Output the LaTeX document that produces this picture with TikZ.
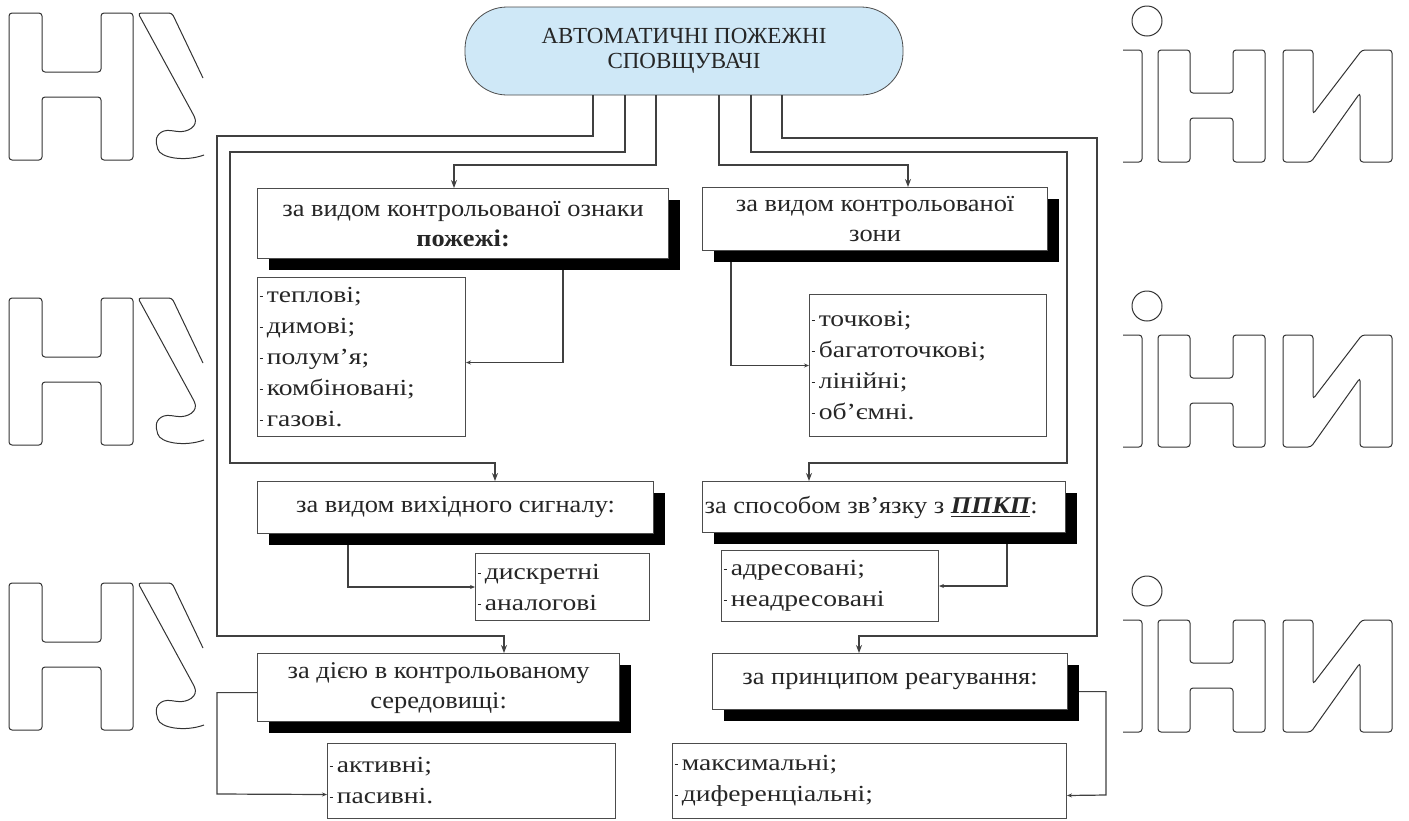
\documentclass[tikz,border=0pt]{standalone}
\usepackage{fontspec}
\setmainfont{Liberation Serif}
\newfontfamily\catfont[FakeStretch=1.1]{Liberation Serif}
\newfontfamily\itmfont[FakeStretch=1.2]{Liberation Serif}
\usetikzlibrary{arrows.meta,calc,shadows}

\definecolor{headfill}{HTML}{CFE8F7}
\newcommand\mk{\rule[0.55ex]{0.15em}{0.35pt}\,}

\begin{document}
\begin{tikzpicture}[
    x=0.5pt, y=-0.5pt,
    headbox/.style={draw=black!70, fill=headfill, rounded corners=21pt, minimum width=219pt, minimum height=44pt, align=center, text=black!85, font=\fontsize{11.5}{12.5}\selectfont},
    cat/.style={draw=black!70, fill=white, line width=0.6pt, anchor=north west, align=center, inner sep=1pt, text=black!85, font=\catfont\fontsize{12}{15}\selectfont, drop shadow={shadow xshift=5.5pt, shadow yshift=-5.5pt, fill=black, opacity=1}},
    itm/.style={draw=black!70, fill=white, line width=0.5pt, anchor=north west, align=left, inner sep=1pt, text=black!85, font=\itmfont\fontsize{11.5}{15.5}\selectfont},
    ln/.style={draw=black!75, line width=0.6pt},
    arr/.style={ln, -{Stealth[length=4pt,width=3pt]}},
    sarr/.style={ln, -{Stealth[length=2.5pt,width=2pt]}},
    wm/.style={draw=black!80, line width=0.5pt, rounded corners=1.5pt},
  ]
    \useasboundingbox[fill=white] (0,0) rectangle (1409,820);

    % Watermark
    \foreach \t in {0,285,570} {
      \draw[wm, shift={(0,\t)}] (9,13) -- (42,13) -- (42,72) -- (101,72) -- (101,13) -- (133,13) -- (133,160) -- (101,160) -- (101,97) -- (42,97) -- (42,160) -- (9,160) -- cycle;
      \draw[wm, shift={(0,\t)}] (203,78) -- (172,13) -- (138,13) -- (193,114) .. controls (199,126) and (188,133) .. (174,131) .. controls (160,129) and (155,137) .. (157,146) .. controls (160,158) and (185,162) .. (204,155);
      \draw[wm, shift={(0,\t)}] (1123,50) -- (1142,50) -- (1142,162) -- (1123,162);
      \draw[wm, shift={(0,\t)}] (1147,21) circle[radius=7.5pt];
      \draw[wm, shift={(0,\t)}] (1158,50) -- (1190,50) -- (1190,93) -- (1233,93) -- (1233,50) -- (1265,50) -- (1265,162) -- (1233,162) -- (1233,118) -- (1190,118) -- (1190,162) -- (1158,162) -- cycle;
      \draw[wm, shift={(0,\t)}] (1283,50) -- (1313,50) -- (1313,114) -- (1362,50) -- (1392,50) -- (1392,162) -- (1360,162) -- (1360,93) -- (1311,162) -- (1283,162) -- cycle;
    }

    % Head
    \node[headbox] (head) at (684,51) {АВТОМАТИЧНІ ПОЖЕЖНІ\\СПОВЩУВАЧІ};

    % Categories
    \node[cat, minimum width=205.5pt, minimum height=35pt] (catA) at (257,188) {за видом контрольованої ознаки\\\textbf{пожежі:}};
    \node[cat, minimum width=172.5pt, minimum height=31.5pt] (catB) at (702,187) {за видом контрольованої\\зони};
    \node[cat, minimum width=198pt, minimum height=26pt] (catC) at (257,481) {за видом вихідного сигналу:};
    \node[cat, align=flush left, text width=179.5pt, minimum height=25.5pt] (catD) at (702,481) {за способом зв’язку з \textbf{\textit{\underline{ППКП}}}:};
    \node[cat, minimum width=181pt, minimum height=34pt] (catE) at (257,653) {за дією в контрольованому\\середовищі:};
    \node[cat, minimum width=177.5pt, minimum height=28pt] (catF) at (712,653) {за принципом реагування:};

    % Items
    \node[itm, text width=102pt, minimum height=79.5pt] (itA) at (257,277) {\mk теплові;\\\mk димові;\\\mk полум’я;\\\mk комбіновані;\\\mk газові.};
    \node[itm, text width=116.5pt, minimum height=71pt] (itB) at (809,294) {\mk точкові;\\\mk багатоточкові;\\\mk лінійні;\\\mk об’ємні.};
    \node[itm, text width=85pt, minimum height=33.5pt] (itC) at (475,553) {\mk дискретні\\\mk аналогові};
    \node[itm, text width=106.5pt, minimum height=35.5pt] (itD) at (721,550) {\mk адресовані;\\\mk неадресовані};
    \node[itm, text width=142pt, minimum height=37.5pt] (itE) at (327,743) {\mk активні;\\\mk пасивні.};
    \node[itm, text width=195pt, minimum height=37.5pt] (itF) at (672,743) {\mk максимальні;\\\mk диференціальні;};

    % Head to categories
    \draw[arr] ([xshift=-45.5pt]head.south) |- (217,136) |- (504,636) -- ([xshift=123.5pt]catE.north west);
    \draw[arr] ([xshift=-29.5pt]head.south) |- (230,152) |- (495,463) -- ([xshift=119pt]catC.north west);
    \draw[arr] ([xshift=-14pt]head.south) |- (454,165) -- ([xshift=98.5pt]catA.north west);
    \draw[arr] ([xshift=17.5pt]head.south) |- (908,165) -- ([xshift=103pt]catB.north west);
    \draw[arr] ([xshift=33.5pt]head.south) |- (1067,152) |- (809,463) -- ([xshift=53.5pt]catD.north west);
    \draw[arr] ([xshift=49pt]head.south) |- (1097,138) |- (859,636) -- ([xshift=73.5pt]catF.north west);

    % Categories to items
    \draw[sarr] ([xshift=153pt,yshift=-5.5pt]catA.south west) |- ([yshift=-2.75pt]itA.east);
    \draw[sarr] ([xshift=14.5pt,yshift=-5.5pt]catB.south west) |- (itB.west);
    \draw[sarr] ([xshift=45.5pt,yshift=-5.5pt]catC.south west) |- (itC.west);
    \draw[sarr] ([xshift=152.5pt,yshift=-5.5pt]catD.south west) |- (itD.east);
    \draw[sarr] ([yshift=-2.5pt]catE.west) -| (217,794) -- ([yshift=-6.75pt]itE.west);
    \draw[sarr] ([xshift=5.5pt,yshift=-5pt]catF.east) -| (1106,795) -- ([yshift=-7.25pt]itF.east);
  \end{tikzpicture}
\end{document}
